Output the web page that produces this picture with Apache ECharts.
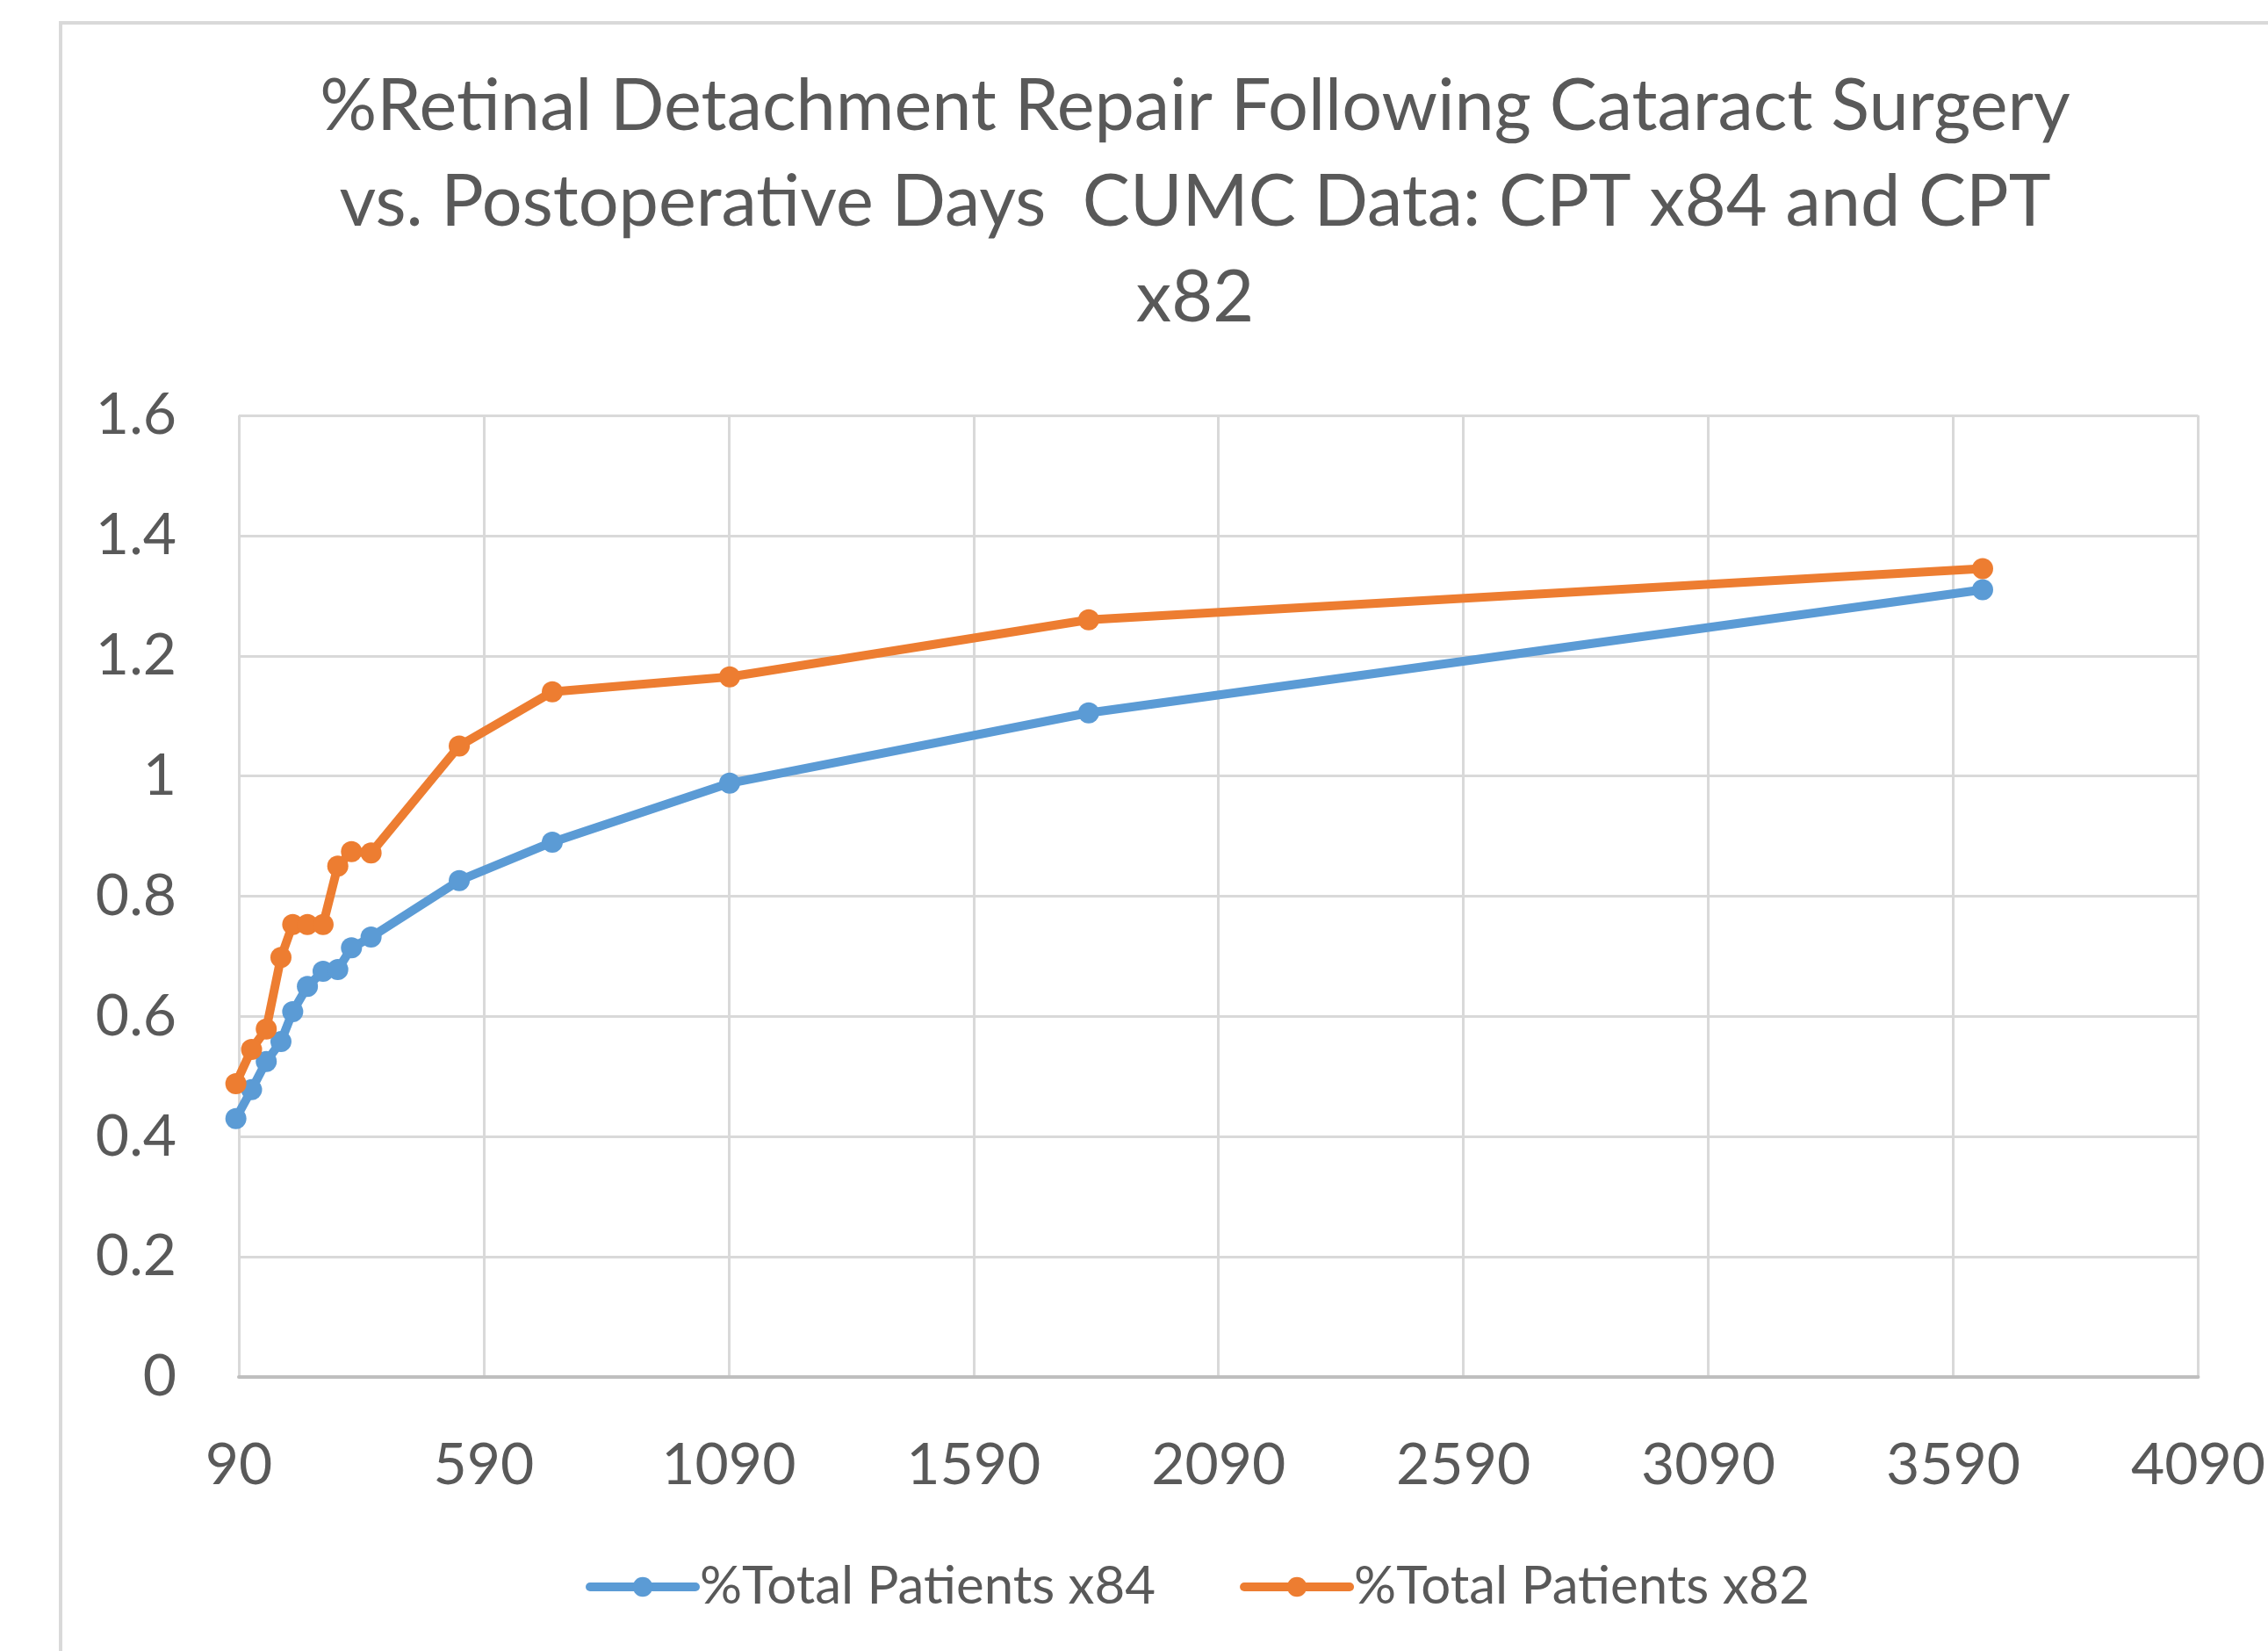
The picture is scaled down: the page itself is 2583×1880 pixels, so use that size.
<!DOCTYPE html>
<html>
<head>
<meta charset="utf-8">
<script src="https://cdn.jsdelivr.net/npm/echarts@6/dist/echarts.min.js"></script>
<style>
  html, body { margin: 0; padding: 0; background: #ffffff; }
  #chart { width: 2583px; height: 1880px; }
</style>
</head>
<body>
<div id="chart"></div>
<script>
// Postoperative days (x) shared by both series
var days = [84, 116, 146, 176, 200, 230, 262, 292, 320, 360, 540, 730, 1092, 1825, 3650];
// %Total Patients x84 (blue)
var patientsX84 = [0.43, 0.478, 0.525, 0.558, 0.608, 0.65, 0.675, 0.678, 0.714, 0.732, 0.826, 0.89, 0.988, 1.105, 1.31];
// %Total Patients x82 (orange)
var patientsX82 = [0.488, 0.545, 0.579, 0.698, 0.753, 0.753, 0.753, 0.85, 0.874, 0.872, 1.05, 1.14, 1.165, 1.26, 1.345];
var seriesNames = ['%Total Patients x84', '%Total Patients x82'];
var titleText = '%Retinal Detachment Repair Following Cataract Surgery\nvs. Postoperative Days  CUMC Data: CPT x84 and CPT\nx82';
var xTicks = { min: 90, max: 4090, interval: 500 };
var yTicks = { min: 0, max: 1.6, interval: 0.2 };

function pairs(xs, ys) {
  return xs.map(function (x, i) { return [x, ys[i]]; });
}

var chart = echarts.init(document.getElementById('chart'), null, { renderer: 'canvas' });
var labelColor = '#595959';
var font = 'Lato';
var colors = ['#5B9BD5', '#ED7D31'];

function lineSeries(name, ys, color) {
  return {
    name: name,
    type: 'line',
    data: pairs(days, ys),
    symbol: 'circle',
    symbolSize: 24,
    clip: false,
    lineStyle: { color: color, width: 10 },
    itemStyle: { color: color }
  };
}

chart.setOption({
  animation: false,
  backgroundColor: '#ffffff',
  graphic: [{
    type: 'rect',
    shape: { x: 69, y: 26, width: 2600, height: 1900 },
    style: { fill: 'none', stroke: '#d9d9d9', lineWidth: 4 },
    silent: true
  }],
  title: {
    text: titleText,
    left: 1356,
    top: 62,
    textAlign: 'center',
    textStyle: {
      fontFamily: font,
      fontSize: 81,
      fontWeight: 'normal',
      color: labelColor,
      lineHeight: 109
    }
  },
  legend: {
    bottom: 38,
    left: 662,
    itemWidth: 120,
    itemHeight: 28,
    itemGap: 96,
    lineStyle: { width: 10, cap: 'round' },
    textStyle: { fontFamily: font, fontSize: 60, color: labelColor, padding: [0, 0, 0, 0] },
    data: seriesNames
  },
  grid: {
    left: 272,
    right: 67,
    top: 473,
    bottom: 312,
    containLabel: false
  },
  xAxis: {
    type: 'value',
    min: xTicks.min,
    max: xTicks.max,
    interval: xTicks.interval,
    axisLine: { show: true, lineStyle: { color: '#bfbfbf', width: 4 } },
    axisTick: { show: false },
    splitLine: { show: true, lineStyle: { color: '#d9d9d9', width: 3 } },
    axisLabel: {
      fontFamily: font, fontSize: 66, color: labelColor, margin: 68,
      formatter: function (v) { return String(v); }
    }
  },
  yAxis: {
    type: 'value',
    min: yTicks.min,
    max: yTicks.max,
    interval: yTicks.interval,
    axisLine: { show: false },
    axisTick: { show: false },
    splitLine: { show: true, lineStyle: { color: '#d9d9d9', width: 3 } },
    axisLabel: { fontFamily: font, fontSize: 66, color: labelColor, margin: 71 }
  },
  series: [
    lineSeries(seriesNames[0], patientsX84, colors[0]),
    lineSeries(seriesNames[1], patientsX82, colors[1])
  ]
});
</script>
</body>
</html>
